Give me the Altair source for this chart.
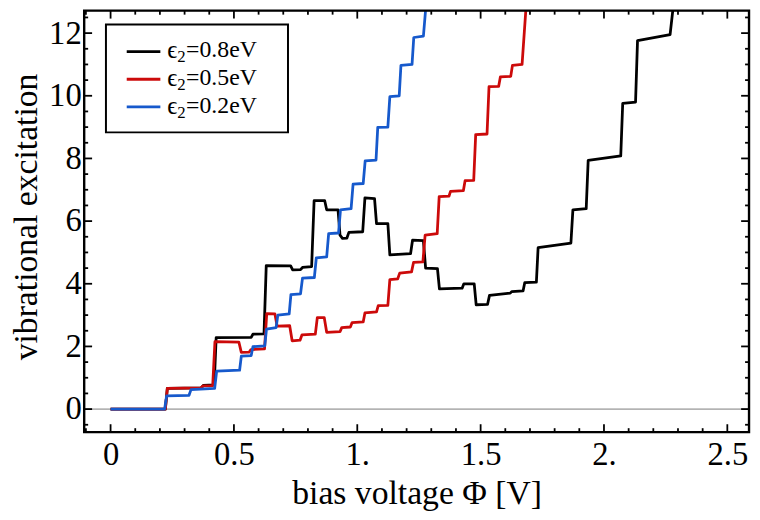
import altair as alt
import pandas as pd

# ---------------- data ----------------
series_labels = ["0.8eV", "0.5eV", "0.2eV"]
series_colors = ["#000000", "#cc0a0a", "#1659cc"]

black_x = [0, 0.222, 0.230, 0.368, 0.376, 0.420, 0.428, 0.570, 0.577, 0.622, 0.631, 0.730, 0.738, 0.770,
           0.778, 0.815, 0.825, 0.868, 0.876, 0.922, 0.930, 0.940, 0.958, 0.966, 1.022, 1.031, 1.070, 1.078,
           1.124, 1.132, 1.216, 1.224, 1.268, 1.277, 1.325, 1.333, 1.425, 1.432, 1.474, 1.482, 1.528, 1.536,
           1.620, 1.626, 1.672, 1.679, 1.726, 1.733, 1.866, 1.874, 1.928, 1.936, 2.068, 2.076, 2.128, 2.136,
           2.268, 2.290]
black_y = [0, 0, 0.66, 0.68, 0.76, 0.77, 2.28, 2.29, 2.39, 2.40, 4.58, 4.57, 4.44, 4.45,
           4.52, 4.55, 6.65, 6.65, 6.36, 6.36, 5.55, 5.45, 5.46, 5.64, 5.66, 6.74, 6.72, 5.92,
           5.92, 4.92, 4.96, 5.39, 5.38, 4.50, 4.48, 3.84, 3.86, 4.00, 4.00, 3.33, 3.34, 3.63,
           3.70, 3.75, 3.77, 4.04, 4.05, 5.15, 5.30, 6.36, 6.40, 7.94, 8.08, 9.76, 9.80, 11.76,
           11.95, 13.5]

red_x = [0, 0.222, 0.230, 0.366, 0.374, 0.414, 0.423, 0.520, 0.530, 0.562, 0.569, 0.624, 0.633, 0.666,
         0.675, 0.726, 0.736, 0.768, 0.776, 0.830, 0.838, 0.866, 0.876, 0.930, 0.937, 0.972, 0.979, 1.024,
         1.031, 1.078, 1.085, 1.124, 1.132, 1.164, 1.172, 1.220, 1.228, 1.266, 1.275, 1.324, 1.332, 1.372,
         1.378, 1.430, 1.437, 1.472, 1.480, 1.526, 1.534, 1.573, 1.580, 1.622, 1.629, 1.668, 1.690]
red_y = [0, 0, 0.66, 0.68, 0.74, 0.75, 2.15, 2.14, 1.81, 1.82, 1.90, 1.92, 3.05, 3.04,
         2.65, 2.66, 2.18, 2.20, 2.37, 2.39, 2.92, 2.92, 2.45, 2.47, 2.60, 2.62, 2.76, 2.78,
         3.07, 3.10, 3.30, 3.31, 4.13, 4.16, 4.34, 4.38, 4.68, 4.70, 5.55, 5.60, 6.78, 6.80,
         6.95, 6.97, 7.29, 7.30, 8.76, 8.78, 10.29, 10.30, 10.60, 10.62, 10.97, 11.00, 13.5]

blue_x = [0, 0.219, 0.227, 0.318, 0.326, 0.422, 0.430, 0.523, 0.530, 0.570, 0.577, 0.625, 0.632, 0.671,
          0.678, 0.724, 0.731, 0.770, 0.778, 0.826, 0.834, 0.876, 0.884, 0.924, 0.932, 0.975, 0.983, 1.024,
          1.032, 1.076, 1.083, 1.124, 1.132, 1.170, 1.177, 1.222, 1.229, 1.268, 1.285]
blue_y = [0, 0, 0.42, 0.44, 0.62, 0.66, 1.21, 1.24, 1.69, 1.71, 1.99, 2.02, 2.55, 2.60,
          3.00, 3.04, 3.65, 3.68, 4.18, 4.20, 4.83, 4.86, 5.60, 5.62, 6.36, 6.40, 7.18, 7.20,
          7.92, 7.95, 8.99, 9.00, 9.97, 10.00, 10.97, 11.00, 11.86, 11.90, 13.5]

x_major_ticks = [0, 0.5, 1.0, 1.5, 2.0, 2.5]
x_minor_ticks = [-0.1, 0.1, 0.2, 0.3, 0.4, 0.6, 0.7, 0.8, 0.9, 1.1, 1.2, 1.3, 1.4,
                 1.6, 1.7, 1.8, 1.9, 2.1, 2.2, 2.3, 2.4]
y_major_ticks = [0, 2, 4, 6, 8, 10, 12]
y_minor_ticks = [-0.5, 0.5, 1, 1.5, 2.5, 3, 3.5, 4.5, 5, 5.5, 6.5, 7, 7.5, 8.5, 9, 9.5,
                 10.5, 11, 11.5, 12.5]

x_title = "bias voltage Φ [V]"
y_title = "vibrational excitation"

# ---------------- layout ----------------
W, H = 672, 426
FONT = "Liberation Serif"
xs = alt.Scale(domain=[-0.107, 2.588], nice=False, zero=False)
ys = alt.Scale(domain=[-0.736, 12.716], nice=False, zero=False)


def series_df(xv, yv):
    return pd.DataFrame({"x": xv, "y": yv, "i": list(range(len(xv)))})


x_label_expr = ("datum.value == 0 ? '0' : (datum.value % 1 == 0 ? "
                "format(datum.value, 'd') + '.' : format(datum.value, '.1f'))")

x_axis = alt.Axis(values=x_major_ticks, labelExpr=x_label_expr, ticks=False, tickSize=0,
                  domain=False, grid=False, labelFont=FONT, labelFontSize=33, labelColor="black",
                  labelPadding=23, labelBaseline="middle", labelFlush=False,
                  title=x_title, titleFont=FONT, titleFontSize=34, titleFontWeight="normal",
                  titleColor="black", titleY=62, titleBaseline="middle")
y_axis = alt.Axis(values=y_major_ticks, ticks=False, tickSize=0, domain=False, grid=False,
                  labelFont=FONT, labelFontSize=33, labelColor="black", labelPadding=3,
                  labelFlush=False,
                  title=y_title, titleFont=FONT, titleFontSize=34, titleFontWeight="normal",
                  titleColor="black", titleX=-58, titleY=208, titleBaseline="middle", titleAngle=-90)


def X(field):
    return alt.X(field, type="quantitative", scale=xs, axis=x_axis, title=x_title)


def Y(field):
    return alt.Y(field, type="quantitative", scale=ys, axis=y_axis, title=y_title)


layers = []

# zero line
zero = alt.Chart(pd.DataFrame({"y": [0]})).mark_rule(color="#7a7a7a", strokeWidth=1).encode(
    y=Y("y"))
layers.append(zero)

# curves (black first, blue on top)
for (xv, yv), col in zip([(black_x, black_y), (red_x, red_y), (blue_x, blue_y)], series_colors):
    layers.append(
        alt.Chart(series_df(xv, yv)).mark_line(color=col, strokeWidth=2.8, clip=True,
                                                strokeJoin="round").encode(
            x=X("x"), y=Y("y"), order="i:Q"))


def xticks(vals, length):
    df = pd.DataFrame({"x": vals})
    bottom = alt.Chart(df).mark_rule(color="black", strokeWidth=1.8).encode(
        x=X("x"), y=alt.value(H), y2=alt.value(H - length))
    top = alt.Chart(df).mark_rule(color="black", strokeWidth=1.8).encode(
        x=X("x"), y=alt.value(0), y2=alt.value(length))
    return [bottom, top]


def yticks(vals, length):
    df = pd.DataFrame({"y": vals})
    left = alt.Chart(df).mark_rule(color="black", strokeWidth=1.8).encode(
        y=Y("y"), x=alt.value(0), x2=alt.value(length))
    right = alt.Chart(df).mark_rule(color="black", strokeWidth=1.8).encode(
        y=Y("y"), x=alt.value(W), x2=alt.value(W - length))
    return [left, right]


layers += xticks(x_major_ticks, 8) + xticks(x_minor_ticks, 4)
layers += yticks(y_major_ticks, 8) + yticks(y_minor_ticks, 4)

# frame
one = pd.DataFrame({"a": [0]})
layers.append(alt.Chart(one).mark_rect(fill=None, stroke="black", strokeWidth=2.4).encode(
    x=alt.value(0), x2=alt.value(W), y=alt.value(0), y2=alt.value(H)))

# legend box
layers.append(alt.Chart(one).mark_rect(fill="white", stroke="black", strokeWidth=2).encode(
    x=alt.value(22), x2=alt.value(206), y=alt.value(14), y2=alt.value(123)))

for k, (lab, col) in enumerate(zip(series_labels, series_colors)):
    ly = 41.3 + k * 28
    layers.append(alt.Chart(one).mark_rule(color=col, strokeWidth=2.8).encode(
        x=alt.value(43), x2=alt.value(77), y=alt.value(ly)))
    layers.append(alt.Chart(one).mark_text(text="ϵ", font=FONT, fontSize=25, align="left",
                                           baseline="middle", color="black").encode(
        x=alt.value(84), y=alt.value(ly - 1)))
    layers.append(alt.Chart(one).mark_text(text="2", font=FONT, fontSize=17, align="left",
                                           baseline="middle", color="black").encode(
        x=alt.value(94), y=alt.value(ly + 6)))
    layers.append(alt.Chart(one).mark_text(text="=" + lab, font=FONT,
                                           fontSize=24, align="left", baseline="middle",
                                           color="black").encode(
        x=alt.value(103), y=alt.value(ly - 1)))

chart = alt.layer(*layers).properties(
    width=W, height=H, autosize="none",
    padding={"left": 77, "top": 0, "right": 3, "bottom": 78},
).configure_view(strokeWidth=0).configure(background="white")

chart.save("out.html", embed_options={"renderer": "svg", "actions": False})
